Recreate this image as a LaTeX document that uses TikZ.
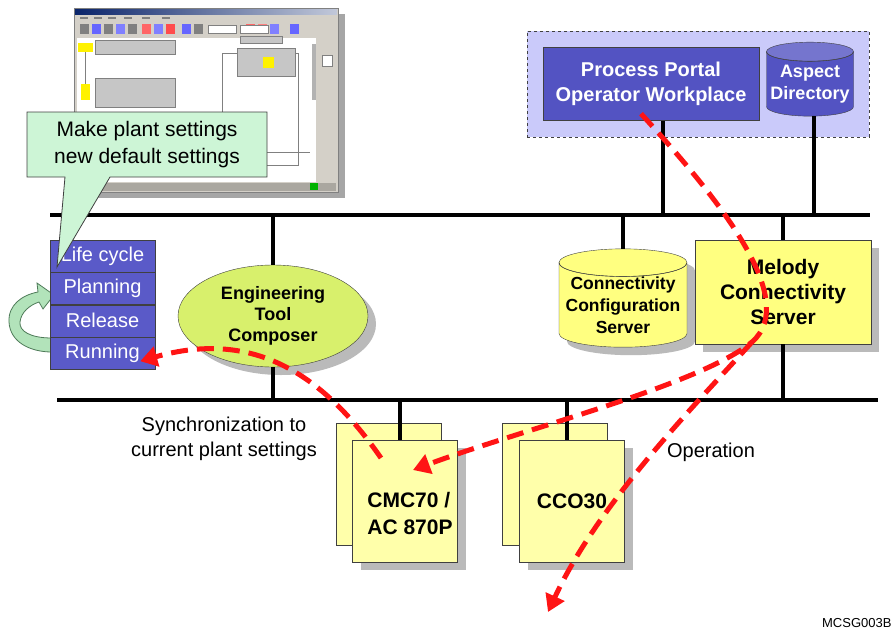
\documentclass[tikz,border=0pt]{standalone}
\usepackage{fontspec}
\setmainfont{Liberation Sans}
\usepackage{tikz}
\usetikzlibrary{arrows.meta,positioning,shapes.geometric,shadows,calc}
\definecolor{lifeblue}{HTML}{5A5AC8}
\definecolor{portalblue}{HTML}{5353C2}
\definecolor{lavender}{HTML}{CACAFA}
\definecolor{callgreen}{HTML}{CDF5D6}
\definecolor{ringgreen}{HTML}{B2E3BA}
\definecolor{ringedge}{HTML}{4E7A58}
\definecolor{limegreen}{HTML}{D8F06C}
\definecolor{melyellow}{HTML}{FFFF80}
\definecolor{paleyellow}{HTML}{FFFFAA}
\definecolor{flowred}{HTML}{FF1414}
\definecolor{linegray}{HTML}{404040}
\definecolor{winface}{HTML}{D4D0C8}
\definecolor{titleblue}{HTML}{0A246A}
\tikzset{
  bus/.style={line width=4.5pt, draw=black},
  drop/.style={line width=3.5pt, draw=black},
  shadebox/.style={drop shadow={shadow xshift=8pt, shadow yshift=-8pt, fill=black!45, opacity=0.6}},
  lifestep/.style={draw=linegray, fill=lifeblue, text=white, minimum width=105pt, minimum height=32pt, inner sep=0pt, font=\fontsize{20}{22}\selectfont},
  portalbox/.style={draw=linegray, fill=portalblue, text=white, align=center, inner sep=0pt, font=\fontsize{20}{25}\selectfont\bfseries},
  dbnode/.style={cylinder, shape border rotate=90, aspect=0.24, draw=linegray, align=center, inner sep=0pt},
  unitbox/.style={draw=linegray, fill=paleyellow, minimum width=105pt, minimum height=122pt, inner sep=0pt},
  unitlabel/.style={align=left, font=\fontsize{21}{27}\selectfont\bfseries},
  flow/.style={draw=flowred, line width=5pt, dash pattern=on 17pt off 9pt, -{Triangle[length=17pt, width=20pt]}},
  note/.style={align=center, font=\fontsize{20}{25}\selectfont}
}
\begin{document}
\begin{tikzpicture}[x=1pt, y=-1pt]
  \useasboundingbox (0,0) rectangle (896,632);

  % screenshot of the engineering tool
  \fill[black!35] (81,14) rectangle (345,198);
  \draw[gray, fill=winface] (74,8) rectangle (338,192);
  \shade[left color=titleblue, right color=titleblue!25!white] (75,9) rectangle (337,14);
  \foreach \x in {80,94,108,124,142,162} \fill[gray] (\x,17) rectangle +(8,2);
  \foreach \x/\c in {80/gray,92/blue!60,104/gray,116/blue!50,128/gray,142/red!60,154/blue!50,166/red!70,182/blue!60,194/gray,246/red!60,258/red!50,270/blue!50,290/blue!60}
    \fill[\c] (\x,24) rectangle +(9,10);
  \draw[gray, fill=white] (208,25) rectangle (236,33);
  \draw[gray, fill=white] (240,25) rectangle (268,33);
  \fill[white] (77,38) rectangle (316,182);
  \fill[winface] (318,38) rectangle (336,182);
  \draw[gray, fill=white] (322,55) rectangle (332,66);
  \fill[gray!60] (312,44) rectangle (316,100);
  \draw[gray] (85,52) -- (85,88);
  \draw[gray, fill=gray!45] (95,40) rectangle (175,54);
  \fill[yellow] (78,43) rectangle (93,52);
  \draw[gray, fill=gray!45] (95,78) rectangle (175,107);
  \fill[yellow] (81,84) rectangle (90,100);
  \draw[gray] (222,53) rectangle (298,165);
  \draw[gray, fill=gray!45] (240,36) rectangle (282,43);
  \draw[gray, fill=gray!45] (237,48) rectangle (295,76);
  \fill[yellow] (263,57) rectangle (274,68);
  \draw[gray] (267,152) -- (310,152);
  \fill[winface!80!black] (76,183) rectangle (336,191);
  \fill[green!70!black] (310,183) rectangle (318,190);

  % buses
  \coordinate (topbusL) at (50,215);
  \coordinate (topbusR) at (870,215);
  \coordinate (lowbusL) at (57,400);
  \coordinate (lowbusR) at (878,400);
  \draw[bus] (topbusL) -- (topbusR);
  \draw[bus] (lowbusL) -- (lowbusR);

  % operator side
  \node[draw=linegray, dashed, fill=lavender, minimum width=342pt, minimum height=106pt] (portalarea) at (698,84) {};
  \node[portalbox, minimum width=216pt, minimum height=73pt] (portal) at (651,84) {Process Portal\\Operator Workplace};
  \node[dbnode, cylinder uses custom fill, cylinder body fill=portalblue, cylinder end fill=portalblue!80!white, text=white,
        minimum width=87pt, minimum height=74pt, font=\fontsize{18}{22}\selectfont\bfseries] (aspect) at (810,84) {Aspect\\Directory};
  \draw[linegray] let \p1=(aspect.before top), \p2=(aspect.top) in
    (\p1) arc[start angle=180, end angle=360, x radius=43.5pt, y radius={\y2-\y1}];
  \draw[drop] ([xshift=12pt]portal.south) -- ([xshift=12pt]portal.south |- topbusL);
  \draw[drop] ([xshift=4pt]aspect.south) -- ([xshift=4pt]aspect.south |- topbusL);

  % servers
  \node[dbnode, shadebox, fill=melyellow, minimum width=128pt, minimum height=95pt,
        font=\fontsize{17.5}{22}\selectfont\bfseries] (confsrv) at (623,305) {Connectivity\\Configuration\\Server};
  \draw[linegray] let \p1=(confsrv.before top), \p2=(confsrv.top) in
    (\p1) arc[start angle=180, end angle=360, x radius=64pt, y radius={\y2-\y1}];
  \node[draw=linegray, fill=melyellow, shadebox, minimum width=176pt, minimum height=104pt, align=center,
        font=\fontsize{21}{25}\selectfont\bfseries] (melody) at (783,292) {Melody\\Connectivity\\Server};
  \draw[drop] (confsrv.north) -- (confsrv.north |- topbusL);
  \draw[drop] (melody.north) -- (melody.north |- topbusL);
  \draw[drop] (melody.south) -- (melody.south |- lowbusL);

  % engineering
  \node[ellipse, draw=linegray, fill=limegreen, shadebox, minimum width=190pt, minimum height=102pt, align=center,
        font=\fontsize{18}{21}\selectfont\bfseries] (composer) at (273,316) {Engineering\\Tool\\Composer};
  \draw[drop] (composer.north) -- (composer.north |- topbusL);
  \draw[drop] (composer.south) -- (composer.south |- lowbusL);

  % life cycle
  \fill[ringgreen, draw=ringedge, thick] (52,338) .. controls (30,338) and (19,331) .. (20,322)
    .. controls (21,312) and (30,305) .. (39,302) -- (43,309) -- (54,295) -- (37,283) -- (38,292)
    .. controls (22,295) and (8,305) .. (9,322) .. controls (10,342) and (30,352) .. (52,352) -- cycle;
  \node[lifestep] (life) at (102.5,256) {Life cycle};
  \node[lifestep, below=0pt of life] (planning) {Planning};
  \node[lifestep, below=0pt of planning] (release) {Release};
  \node[lifestep, below=0pt of release] (running) {Running};

  % callout
  \fill[callgreen, draw=linegray, thick] (27,112) -- (267,112) -- (267,177) -- (110,177) -- (57,267) -- (65,177) -- (27,177) -- cycle;
  \node[note, font=\fontsize{21}{27}\selectfont] (callout) at (147,145) {Make plant settings\\new default settings};

  % controllers
  \node[unitbox] (cmcback) at (389,484) {};
  \node[unitbox, shadebox] (cmcfront) at (405,501) {};
  \node[unitlabel] (cmclabel) at (410,513) {CMC70 /\\AC 870P};
  \node[unitbox] (ccoback) at (555,484) {};
  \node[unitbox, shadebox, font=\fontsize{21}{27}\selectfont\bfseries] (ccofront) at (572,501) {CCO30};
  \draw[drop] ([xshift=-5pt]cmcfront.north) -- ([xshift=-5pt]cmcfront.north |- lowbusL);
  \draw[drop] ([xshift=-5pt]ccofront.north) -- ([xshift=-5pt]ccofront.north |- lowbusL);

  % texts
  \node[note] (sync) at (224,439) {Synchronization to\\current plant settings};
  \node[note] (operation) at (711,452) {Operation};
  \node[anchor=east, font=\fontsize{13}{15}\selectfont] (figid) at (895,623) {MCSG003B};

  % flows
  \coordinate (split) at (752,342);
  \coordinate (opout) at (548,612);
  \draw[flow] ([xshift=-10pt, yshift=7pt]portal.south) .. controls (720,200) and (800,300) .. (split)
    .. controls (700,385) and (520,430) .. ([xshift=8pt, yshift=31pt]cmcfront.center);
  \draw[flow] (split) .. controls (700,400) and (600,500) .. (opout);
  \draw[flow] ([xshift=-24pt, yshift=43pt]cmcfront.center) .. controls (320,370) and (250,330) .. ([xshift=-15pt, yshift=-8pt]running.east);
\end{tikzpicture}
\end{document}
